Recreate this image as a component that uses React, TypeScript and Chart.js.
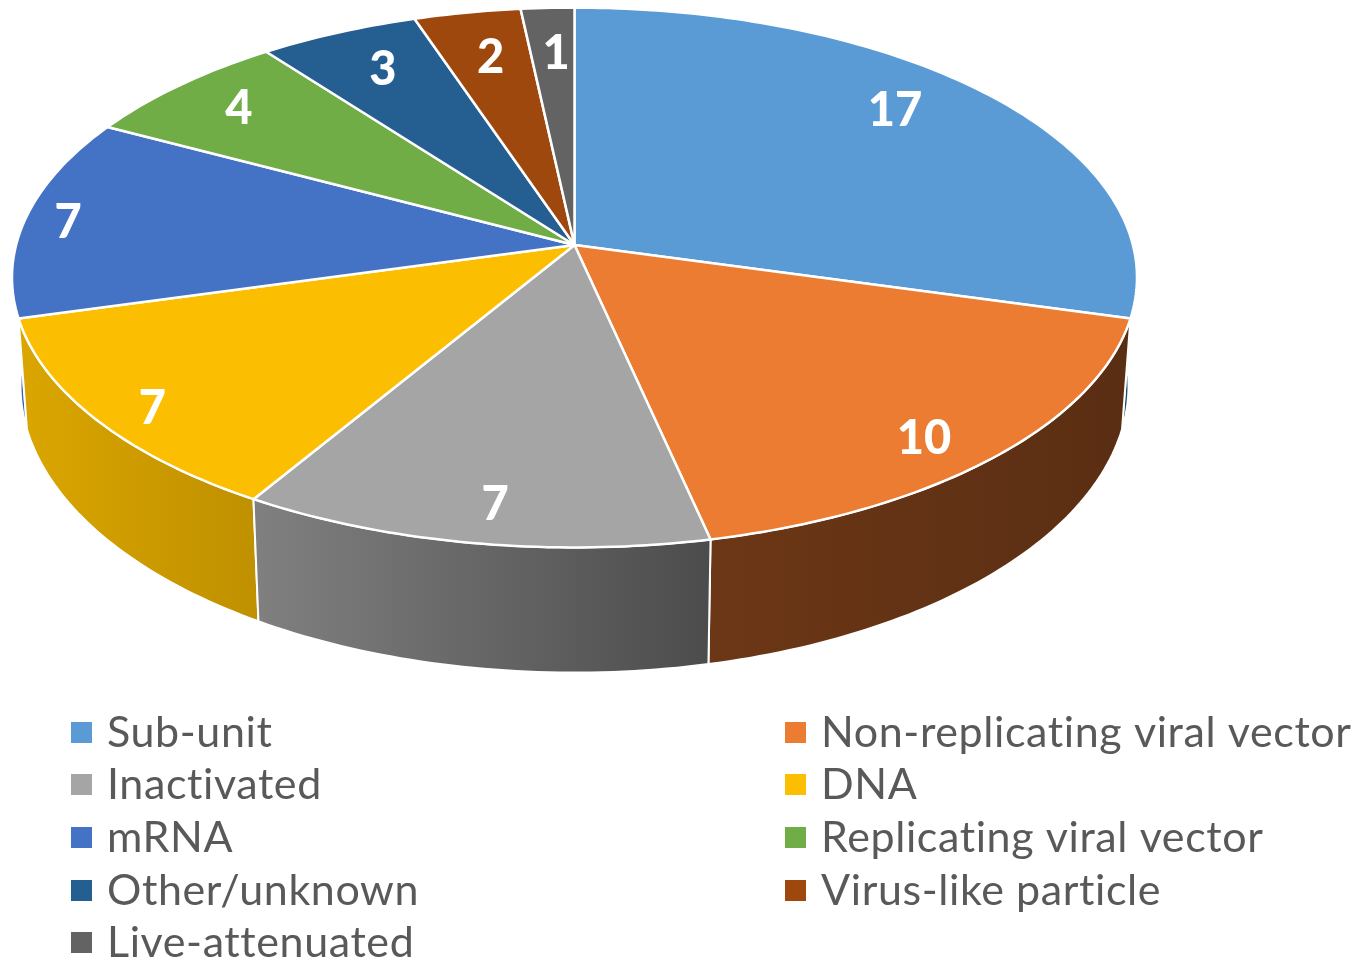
import React, { useEffect, useRef } from "react";
import { Chart, registerables } from "chart.js";

Chart.register(...registerables);

const categories = [
  "Sub-unit",
  "Non-replicating viral vector",
  "Inactivated",
  "DNA",
  "mRNA",
  "Replicating viral vector",
  "Other/unknown",
  "Virus-like particle",
  "Live-attenuated",
];
const values = [17, 10, 7, 7, 7, 4, 3, 2, 1];
const faceColors = ["#5B9BD5", "#EB7C31", "#A5A5A5", "#FBBE00", "#4472C4", "#70AD47", "#255E91", "#9E480E", "#636363"];
// wall shading: [left colour, right colour]
const wallColors: [string, string][] = [
  ["#1F4A70", "#1F4A70"],
  ["#6C3716", "#5A2E13"],
  ["#808080", "#4C4C4C"],
  ["#DBA600", "#BF9000"],
  ["#3A63B0", "#3A63B0"],
  ["#000000", "#000000"],
  ["#000000", "#000000"],
  ["#000000", "#000000"],
  ["#000000", "#000000"],
];
const labelRadii = [0.82, 0.875, 0.876, 0.905, 0.925, 0.85, 0.816, 0.796, 0.797];
const labelAngleShift = [-4.8, 2.5, -0.8, -1.4, -0.3, 0.4, 0.5, 0.3, 0.3];

const top = { cx: 574.5, cy: 245, rx: 558.4, ry: 266, k: 0.1205 };
const bottom = { cx: 574.5, cy: 351, rx: 550, ry: 283, k: 0.12 };
const wallRange = [90, 270];

const legendCols = [71, 785];
const legendRows = [733, 785, 838, 891, 943];
const legendFont = "43px Lato, Carlito, sans-serif";
const labelFont = "900 47px Lato, Carlito, sans-serif";

type Plane = typeof top;
const project = (p: Plane, deg: number, r = 1): [number, number] => {
  const a = (deg * Math.PI) / 180;
  const u = Math.sin(a) * r;
  const v = Math.cos(a) * r;
  const w = 1 + p.k * v;
  return [p.cx + (p.rx * u) / w, p.cy - (p.ry * v) / w];
};

const arcPoints = (p: Plane, from: number, to: number) => {
  const pts: [number, number][] = [];
  const n = Math.max(2, Math.ceil(to - from));
  for (let i = 0; i <= n; i++) pts.push(project(p, from + ((to - from) * i) / n));
  return pts;
};

const perspectivePie = {
  id: "perspectivePie",
  beforeDatasetsDraw() {
    return false;
  },
  afterDraw(chart: any) {
    const ctx: any = chart.ctx;
    const arcs = chart.getDatasetMeta(0).data;
    const range = arcs.map((el: any) => [
      (el.startAngle * 180) / Math.PI + 90,
      (el.endAngle * 180) / Math.PI + 90,
    ]);
    ctx.save();
    ctx.lineJoin = "round";
    ctx.strokeStyle = "#FFFFFF";

    // walls: outermost slices first
    const order = [0, 4, 3, 1, 2];
    for (const i of order) {
      const from = Math.max(range[i][0], wallRange[0]);
      const to = Math.min(range[i][1], wallRange[1]);
      if (to <= from) continue;
      const upper = arcPoints(top, from, to);
      const lower = arcPoints(bottom, from, to).reverse();
      const xs = [...upper, ...lower].map((q) => q[0]);
      const g = ctx.createLinearGradient(Math.min(...xs), 0, Math.max(...xs), 0);
      g.addColorStop(0, wallColors[i][0]);
      g.addColorStop(1, wallColors[i][1]);
      ctx.beginPath();
      [...upper, ...lower].forEach((q, j) => (j ? ctx.lineTo(q[0], q[1]) : ctx.moveTo(q[0], q[1])));
      ctx.closePath();
      ctx.fillStyle = g;
      ctx.fill();
      ctx.lineWidth = 2;
      ctx.stroke();
    }

    // top faces
    range.forEach((r: number[], i: number) => {
      ctx.beginPath();
      ctx.moveTo(top.cx, top.cy);
      arcPoints(top, r[0], r[1]).forEach((q) => ctx.lineTo(q[0], q[1]));
      ctx.closePath();
      ctx.fillStyle = arcs[i].options.backgroundColor;
      ctx.fill();
      ctx.lineWidth = 2.5;
      ctx.stroke();
    });

    // value labels
    ctx.font = labelFont;
    ctx.fillStyle = "#FFFFFF";
    ctx.textAlign = "center";
    ctx.textBaseline = "middle";
    range.forEach((r: number[], i: number) => {
      const q = project(top, (r[0] + r[1]) / 2 + labelAngleShift[i], labelRadii[i]);
      ctx.fillText(String(chart.data.datasets[0].data[i]), q[0] + 1.5, q[1] + 2.5);
    });

    // legend
    ctx.textAlign = "left";
    ctx.textBaseline = "alphabetic";
    ctx.font = legendFont;
    ctx.letterSpacing = "0.6px";
    chart.data.labels.forEach((label: string, i: number) => {
      const x = legendCols[i % 2];
      const y = legendRows[Math.floor(i / 2)];
      ctx.fillStyle = arcs[i].options.backgroundColor;
      ctx.fillRect(x, y - 11, 21, 21);
      ctx.fillStyle = "#595959";
      ctx.fillText(label, x + 36, y + 14);
    });
    ctx.restore();
  },
};

export default function App() {
  const ref = useRef<HTMLCanvasElement>(null);
  useEffect(() => {
    document.body.style.margin = "0";
    document.documentElement.style.overflow = "hidden";
    const chart = new Chart(ref.current as HTMLCanvasElement, {
      type: "pie",
      data: {
        labels: categories,
        datasets: [{ data: values, backgroundColor: faceColors, borderColor: "#FFFFFF", borderWidth: 2 }],
      },
      options: {
        animation: false,
        responsive: false,
        events: [],
        plugins: { legend: { display: false }, tooltip: { enabled: false } },
      },
      plugins: [perspectivePie],
    } as any);
    return () => chart.destroy();
  }, []);
  return <canvas ref={ref} width={1355} height={960} style={{ display: "block", background: "#FFFFFF" }} />;
}
